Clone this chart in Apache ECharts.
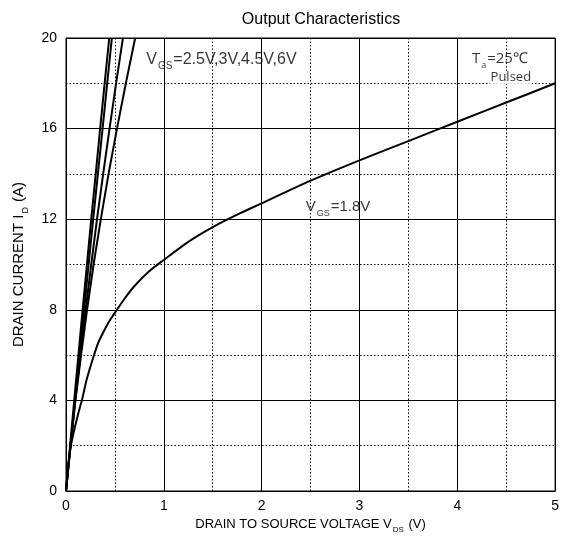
<!DOCTYPE html>
<html><head><meta charset="utf-8">
<script src="https://cdn.jsdelivr.net/npm/echarts@6/dist/echarts.min.js"></script>
<style>html,body{margin:0;padding:0;background:#fff}#c{width:562px;height:545px}</style>
</head><body><div id="c"></div>
<script>
// Data: [VDS (V), ID (A)]
const xTicks = [0, 1, 2, 3, 4, 5];
const yTicks = [0, 4, 8, 12, 16, 20];
const vgs6   = [[0,0],[0.042,2],[0.084,4],[0.127,6],[0.17,8],[0.214,10],[0.258,12],[0.304,14],[0.349,16],[0.395,18],[0.442,20]];
const vgs45  = [[0,0],[0.046,2],[0.092,4],[0.139,6],[0.185,8],[0.231,10],[0.278,12],[0.326,14],[0.374,16],[0.421,18],[0.469,20]];
const vgs3   = [[0,0],[0.046,2],[0.095,4],[0.147,6],[0.201,8],[0.258,10],[0.317,12],[0.38,14],[0.445,16],[0.512,18],[0.582,20]];
const vgs25  = [[0,0],[0.045,2],[0.096,4],[0.154,6],[0.215,8],[0.282,10],[0.356,12],[0.435,14],[0.521,16],[0.612,18],[0.707,20]];
const vgs18  = [[0,0],[0.02,1.0],[0.05,2.0],[0.09,2.8],[0.13,3.5],[0.165,4.05],[0.21,4.9],[0.25,5.5],[0.29,6.05],[0.33,6.55],[0.38,7.0],[0.45,7.55],[0.52,8.0],[0.6,8.5],[0.7,9.05],[0.85,9.7],[1.0,10.2],[1.25,11.0],[1.5,11.65],[1.75,12.2],[2,12.7],[2.5,13.7],[3,14.6],[3.5,15.45],[4,16.3],[4.5,17.15],[5,18.0]];
const labelVgsHigh = {x: 0.82, y: 19.0, text: '{n|V}{s|GS}{n|=2.5V,3V,4.5V,6V}'};
const labelVgsLow  = {x: 2.45, y: 12.5, text: '{n|V}{s|GS}{n|=1.8V}'};
const labelTa      = {x: 4.15, y: 19.05, text: '{n|T}{s|a}{n|=25℃}'};
const labelPulsed  = {x: 4.33, y: 18.25, text: 'Pulsed'};

const chart = echarts.init(document.getElementById('c'));
const font = 'Liberation Sans, Arial, sans-serif';
function richSub(size, sub, family, drop) {
  return {
    n: {fontSize: size, fontFamily: family, color: '#000', lineHeight: size + 2, verticalAlign: 'top'},
    s: {fontSize: sub, fontFamily: family, color: '#000', lineHeight: sub, verticalAlign: 'top',
        padding: [Math.round(size * drop), 1, 0, 1]}
  };
}
const lineSeries = (d) => ({
  type: 'line', data: d, showSymbol: false, smooth: false, clip: true,
  lineStyle: {color: '#000', width: 2}, silent: true, z: 5
});
const curveSeries = (d) => ({
  type: 'line', data: d, showSymbol: false, smooth: 0.25, clip: true,
  lineStyle: {color: '#000', width: 2}, silent: true, z: 5
});
const labelSeries = (l, extra) => ({
  type: 'scatter', data: [[l.x, l.y]], symbolSize: 0, silent: true, z: 10,
  label: Object.assign({show: true, position: 'right', distance: 0, formatter: l.text,
    fontFamily: font, fontSize: 15, color: '#000'}, extra || {})
});
chart.setOption({
  animation: false,
  backgroundColor: '#fff',
  title: {text: 'Output Characteristics', left: 316, top: 7, textAlign: 'center',
    textStyle: {fontFamily: font, fontSize: 16, fontWeight: 'normal', color: '#000'}},
  grid: {left: 66, right: 6, top: 38, bottom: 54, show: true, borderColor: '#000', borderWidth: 1},
  xAxis: {
    type: 'value', min: xTicks[0], max: xTicks[xTicks.length-1], interval: 1,
    name: '{n|DRAIN TO SOURCE VOLTAGE V}{s|DS}{n| (V)}', nameLocation: 'middle', nameGap: 22,
    nameTextStyle: {rich: richSub(13, 8, font, 0.65)},
    axisLine: {lineStyle: {color: '#000', width: 1}},
    axisTick: {show: false},
    axisLabel: {fontFamily: font, fontSize: 14, color: '#000', margin: 8},
    splitLine: {show: true, lineStyle: {color: '#000', width: 1}},
    minorTick: {show: false, splitNumber: 2},
    minorSplitLine: {show: true, lineStyle: {color: '#000', width: 1, type: [1.5, 2]}}
  },
  yAxis: {
    type: 'value', min: yTicks[0], max: yTicks[yTicks.length-1], interval: 4,
    name: '{n|DRAIN CURRENT I}{s|D}{n| (A)}', nameLocation: 'middle', nameGap: 38, nameRotate: 90,
    nameTextStyle: {rich: richSub(15, 9, font, 0.65)},
    axisLine: {show: true, lineStyle: {color: '#000', width: 1}},
    axisTick: {show: false},
    axisLabel: {fontFamily: font, fontSize: 14, color: '#000', margin: 9},
    splitLine: {show: true, lineStyle: {color: '#000', width: 1}},
    minorTick: {show: false, splitNumber: 2},
    minorSplitLine: {show: true, lineStyle: {color: '#000', width: 1, type: [1.5, 2]}}
  },
  series: [
    lineSeries(vgs6), lineSeries(vgs45), lineSeries(vgs3), lineSeries(vgs25), curveSeries(vgs18),
    labelSeries(labelVgsHigh, {rich: richSub(16, 10, font, 0.65)}),
    labelSeries(labelVgsLow, {rich: richSub(15, 9, font, 0.65)}),
    labelSeries(labelTa, {rich: richSub(15, 9, 'Open Sans', 0.65)}),
    labelSeries(labelPulsed, {fontFamily: 'Open Sans', fontSize: 13, backgroundColor: '#fff', padding: [0, 1, 0, 1]})
  ]
});
</script></body></html>
